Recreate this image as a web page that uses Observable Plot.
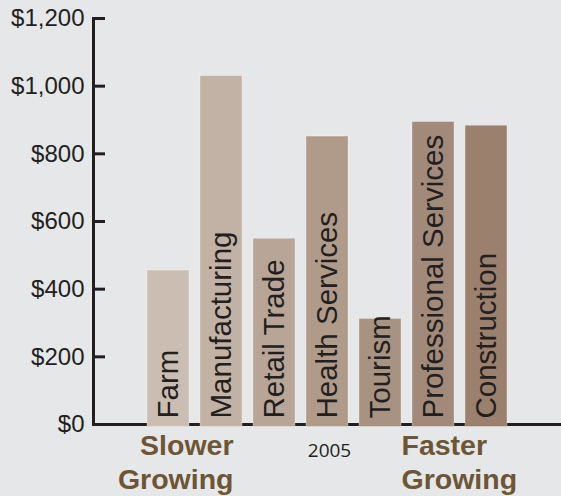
<!DOCTYPE html>
<html>
<head>
<meta charset="utf-8">
<script src="https://cdn.jsdelivr.net/npm/d3@7"></script>
<script src="https://cdn.jsdelivr.net/npm/@observablehq/plot@0.6"></script>
<style>
  html, body { margin: 0; padding: 0; background: #e6e7e8; }
  #chart svg { display: block; }
</style>
</head>
<body>
<div id="chart"></div>
<script>
// ---- data ----
const categories = ["Farm", "Manufacturing", "Retail Trade", "Health Services", "Tourism", "Professional Services", "Construction"];
const values = [455, 1030, 549, 851, 312, 894, 883];
const yTicks = [0, 200, 400, 600, 800, 1000, 1200];
const slowerLabel = ["Slower\nGrowing"];
const fasterLabel = ["Faster\nGrowing"];
const yearLabel = ["2005"];

// ---- styles ----
const palette = ["#cbbdb2", "#c2b2a5", "#b8a597", "#b09b8b", "#a89282", "#a28a7a", "#9b806e"];
const ink = "#231f20";
const brown = "#6d5636";
const W = 561, H = 496, ML = 93, MR = 0, tickLen = 12;

const data = categories.map((name, i) => ({name, value: values[i]}));

const chart = Plot.plot({
  width: W,
  height: H,
  marginLeft: ML,
  marginRight: MR,
  marginTop: 18,
  marginBottom: 72,
  style: {background: "#e6e7e8", fontFamily: "'Liberation Sans', Arial, sans-serif"},
  x: {domain: categories, range: [139.6, 515.4], paddingInner: 0.2, paddingOuter: 0.1, axis: null},
  y: {domain: [0, 1200], axis: null},
  color: {type: "ordinal", domain: categories, range: palette},
  marks: [
    Plot.ruleY([0], {stroke: ink, strokeWidth: 3}),
    Plot.barY(data, {x: "name", y: "value", fill: "name", stroke: "#ffffff", strokeOpacity: 0.3, strokeWidth: 1, insetBottom: -2.5}),
    Plot.frame({anchor: "left", stroke: ink, strokeWidth: 3}),
    Plot.tickY(yTicks, {y: d => d, stroke: ink, strokeWidth: 3, insetRight: W - ML - MR - tickLen}),
    Plot.axisY({ticks: yTicks, tickFormat: d3.format("$,"), tickSize: 0, tickPadding: 9, color: ink, fontSize: 24, label: null}),
    Plot.text(data, {x: "name", y: 0, text: "name", rotate: -90, textAnchor: "start", lineAnchor: "middle", dy: -6, fontSize: 29.5, fill: ink}),
    Plot.text(slowerLabel, {x: () => "Manufacturing", frameAnchor: "bottom", text: d => d, textAnchor: "end", lineAnchor: "top", dx: 12, dy: 6, fontSize: 28.5, fontWeight: "bold", fill: brown, lineHeight: 1.2}),
    Plot.text(fasterLabel, {x: () => "Professional Services", frameAnchor: "bottom", text: d => d, textAnchor: "start", lineAnchor: "top", dx: -32, dy: 6, fontSize: 28.5, fontWeight: "bold", fill: brown, lineHeight: 1.2}),
    Plot.text(yearLabel, {x: () => "Health Services", frameAnchor: "bottom", text: d => d, textAnchor: "middle", lineAnchor: "top", dx: 2, dy: 18.5, fontSize: 19, fill: ink, fontFamily: "'Open Sans', sans-serif"})
  ]
});
document.getElementById("chart").appendChild(chart);
</script>
</body>
</html>
